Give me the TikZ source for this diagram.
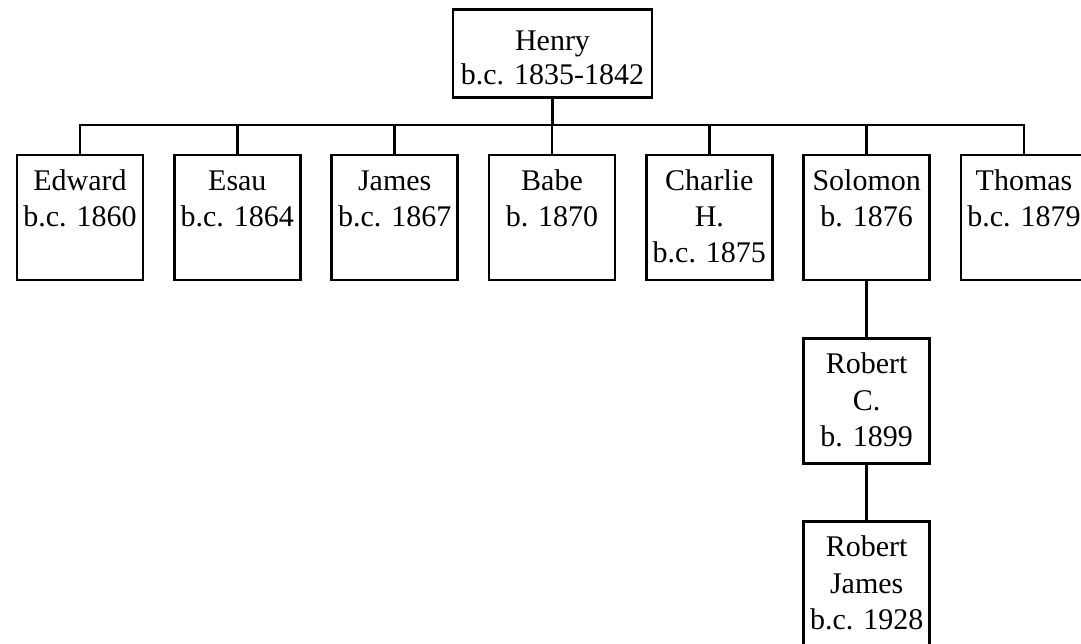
\documentclass[tikz,border=0pt]{standalone}
\usepackage{fontspec}
\setmainfont{Liberation Serif}
\newcommand\kidtext[1]{\parbox[c][93.75pt][t]{94.5pt}{\centering\rule{0pt}{26.5pt}#1}}
\newcommand\toptext[1]{\parbox[c][66pt][t]{149.25pt}{\centering\fontsize{22.5pt}{25.5pt}\selectfont\rule{0pt}{30.5pt}#1}}
\begin{document}
\begin{tikzpicture}[x=0.75pt,y=-0.75pt,
  person/.style={draw, line width=2.1pt, inner sep=0pt, anchor=north,
    font=\fontsize{22.5pt}{27.2pt}\selectfont},
  link/.style={line width=2.1pt}]
\useasboundingbox (0,0) rectangle (1081,643);
\node[person] (henry) at (552.5,8) {\toptext{Henry\\b.c. 1835-1842}};
\node[person] (edward) at (80,153.5) {\kidtext{Edward\\b.c. 1860}};
\node[person] (esau) at (237.33,153.5) {\kidtext{Esau\\b.c. 1864}};
\node[person] (james) at (394.67,153.5) {\kidtext{James\\b.c. 1867}};
\node[person] (babe) at (552,153.5) {\kidtext{Babe\\b. 1870}};
\node[person] (charlie) at (709.33,153.5) {\kidtext{Charlie\\H.\\b.c. 1875}};
\node[person] (solomon) at (866.67,153.5) {\kidtext{Solomon\\b. 1876}};
\node[person] (thomas) at (1024,153.5) {\kidtext{Thomas\\b.c. 1879}};
\node[person] (robertc) at (866.67,337) {\kidtext{Robert\\C.\\b. 1899}};
\node[person] (robertj) at (866.67,520) {\kidtext{Robert\\James\\b.c. 1928}};
\coordinate (bus) at (0,125);
\foreach \k in {edward,esau,james,babe,charlie,solomon,thomas}
  \draw[link] (henry.south) -- (henry.south |- bus) -| (\k.north);
\draw[link] (solomon.south) -- (robertc.north);
\draw[link] (robertc.south) -- (robertj.north);
\end{tikzpicture}
\end{document}
